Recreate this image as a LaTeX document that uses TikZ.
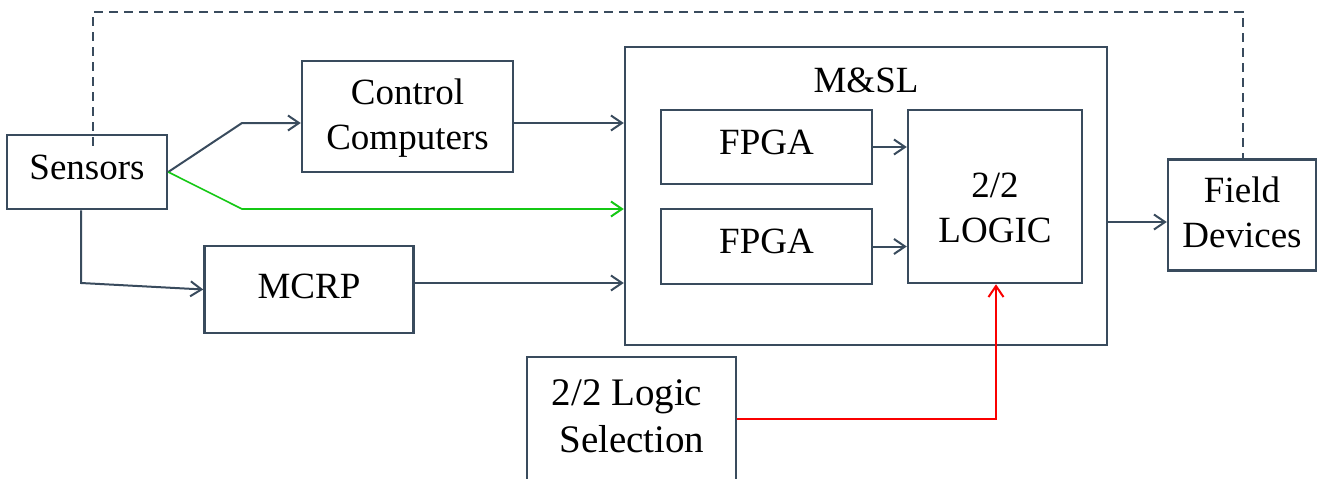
\documentclass[tikz,border=0pt]{standalone}
\usepackage{fontspec}
\setmainfont{Liberation Serif}
\usetikzlibrary{arrows.meta,calc}
\definecolor{ink}{HTML}{394B5D}
\definecolor{sigGreen}{RGB}{20,200,20}
\definecolor{sigRed}{RGB}{250,0,0}
\begin{document}
\begin{tikzpicture}[x=1pt,y=-1pt,
  box/.style={draw=ink,line width=2.5pt,fill=white,inner sep=0pt},
  txt/.style={inner sep=0pt,align=center,font=\fontsize{37}{45}\selectfont},
  arr/.style={draw=ink,line width=2pt,-{Straight Barb[length=11pt,width=15pt,line width=2pt]}},
  link/.style={draw=ink,line width=2.2pt}]
\useasboundingbox (0,0) rectangle (1325,479);
\clip (0,0) rectangle (1325,479);

% blocks
\node[box,minimum width=160pt,minimum height=74pt] (sens) at (87,172) {};
\node[box,minimum width=211pt,minimum height=111pt] (ctrl) at (407.5,116.5) {};
\node[box,minimum width=209pt,minimum height=87pt] (mcrp) at (309,289.5) {};
\node[box,minimum width=482pt,minimum height=298pt] (msl) at (866,196) {};
\node[box,minimum width=211pt,minimum height=74pt] (fpgaA) at (766.5,147) {};
\node[box,minimum width=211pt,minimum height=75pt] (fpgaB) at (766.5,246.5) {};
\node[box,minimum width=174pt,minimum height=173pt] (logic) at (995,196.5) {};
\node[box,minimum width=148pt,minimum height=111pt] (field) at (1242,215) {};
\node[box,minimum width=209pt,minimum height=143pt] (sel) at (631.5,428.5) {};

% block texts
\node[txt] (sensT) at ($(sens)+(0,-5)$) {Sensors};
\node[txt] (ctrlT) at ($(ctrl)+(0,2)$) {Control\\Computers};
\node[txt] (mcrpT) at ($(mcrp)+(0,-3)$) {MCRP};
\node[txt] (mslT) at (866,80) {M\&SL};
\node[txt] (fpgaAT) at ($(fpgaA)+(0,-5)$) {FPGA};
\node[txt] (fpgaBT) at ($(fpgaB)+(0,-5)$) {FPGA};
\node[txt] (logicT) at ($(logic)+(0,11)$) {2/2\\LOGIC};
\node[txt] (fieldT) at ($(field)+(0,-2.5)$) {Field\\Devices};
\node[txt,font=\fontsize{39}{47}\selectfont] (selT) at (627,416) {2/2 Logic\\\ Selection};

% routing points
\coordinate (c1) at (242,123);
\coordinate (c2) at (242,209);
\coordinate (c3) at (81,283);
\coordinate (c4) at (1140,222);
\coordinate (c5) at (996,419);
\coordinate (d1) at (93,12);
\coordinate (d2) at (1243,12);

% connectors
\draw[arr] (sens.east) -- (c1) -- (c1 -| ctrl.west);
\draw[arr,draw=sigGreen,line width=1.6pt,-{Straight Barb[length=11pt,width=15pt,line width=2pt]}]
  (sens.east) -- (c2) -- (c2 -| msl.west);
\draw[arr] (c3 |- sens.south) -- (c3) -- (mcrp.west);
\draw[arr] (c1 -| ctrl.east) -- (c1 -| msl.west);
\draw[arr] (mcrp.east |- c3) -- (c3 -| msl.west);
\draw[arr] (fpgaA.east) -- (fpgaA.east -| logic.west);
\draw[arr] (fpgaB.east) -- (fpgaB.east -| logic.west);
\draw[arr] (c4 -| msl.east) -- (c4 -| field.west);
\draw[arr,draw=sigRed,-{Straight Barb[length=11pt,width=15pt,line width=2pt]}]
  (c5 -| sel.east) -- (c5) -- (c5 |- logic.south);
\draw[link,dash pattern=on 9pt off 6pt] ($(d1 |- sens.north)+(0,12)$) -- (d1) -- (d2) -- (d2 |- field.north);
\end{tikzpicture}
\end{document}
